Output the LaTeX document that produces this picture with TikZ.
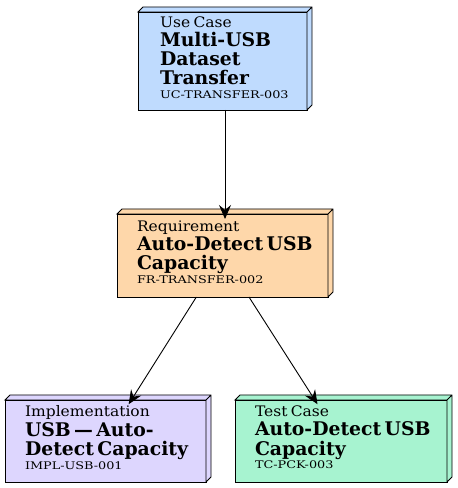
\documentclass[tikz,border=0pt]{standalone}
\usepackage{fontspec}
\setmainfont{DejaVu Serif}
\newfontfamily\kindfont{DejaVu Serif}[FakeStretch=1.07]
\newfontfamily\idfont{DejaVu Serif}[FakeStretch=1.22]
\usetikzlibrary{arrows.meta}

\definecolor{ucblue}{HTML}{BFDBFE}
\definecolor{reqorange}{HTML}{FED7AA}
\definecolor{implviolet}{HTML}{DDD6FE}
\definecolor{tcgreen}{HTML}{A7F3D0}

\newcommand{\kindtxt}[1]{{\kindfont\fontsize{14.5}{15}\selectfont\mbox{#1}\par}}
\newcommand{\titletxt}[1]{{\fontsize{18.8}{19.2}\selectfont\bfseries\mbox{#1}\par}}
\newcommand{\idtxt}[1]{{\idfont\fontsize{10.5}{13.8}\selectfont\mbox{#1}\par}\vskip 7pt\hrule height 0pt width 0pt}

\tikzset{
    artbox/.style={draw, line width=0.9pt, outer sep=0pt, inner xsep=10pt, inner ysep=1pt, align=left},
    trace/.style={line width=0.9pt, -{Stealth[length=14pt, width=12pt, inset=5pt]}, shorten >=-5pt}
}

\begin{document}
\begin{tikzpicture}[x=1pt, y=1pt]
    \useasboundingbox (0,0) rectangle (458,488);

    \node[artbox, fill=ucblue, minimum width=169, minimum height=98, text width=125] (uc) at (222.5,427)
        {\kindtxt{Use Case}\titletxt{Multi-USB}\titletxt{Dataset}\titletxt{Transfer}\idtxt{UC-TRANSFER-003}};
    \node[artbox, fill=reqorange, minimum width=211, minimum height=83, text width=171] (req) at (222.5,232.5)
        {\kindtxt{Requirement}\titletxt{Auto-Detect USB}\titletxt{Capacity}\idtxt{FR-TRANSFER-002}};
    \node[artbox, fill=implviolet, minimum width=201, minimum height=82, text width=161] (impl) at (105.5,47)
        {\kindtxt{Implementation}\titletxt{USB — Auto-}\titletxt{Detect Capacity}\idtxt{IMPL-USB-001}};
    \node[artbox, fill=tcgreen, minimum width=212, minimum height=82, text width=172] (tc) at (341,47)
        {\kindtxt{Test Case}\titletxt{Auto-Detect USB}\titletxt{Capacity}\idtxt{TC-PCK-003}};

    % depth of the boxes
    \foreach \n/\c in {uc/ucblue, req/reqorange, impl/implviolet, tc/tcgreen}
        \draw[line width=0.9pt, fill=\c] (\n.north west) -- ++(5,5) -- ([shift={(5,5)}]\n.north east)
            -- ([shift={(5,5)}]\n.south east) -- (\n.south east) -- (\n.north east) -- cycle
            (\n.north east) -- ++(5,5);

    \draw[trace] ([xshift=2.5]uc.south) -- ([xshift=2.5]req.north);
    \draw[trace] (req) -- (impl);
    \draw[trace] (req) -- (tc);
\end{tikzpicture}
\end{document}
